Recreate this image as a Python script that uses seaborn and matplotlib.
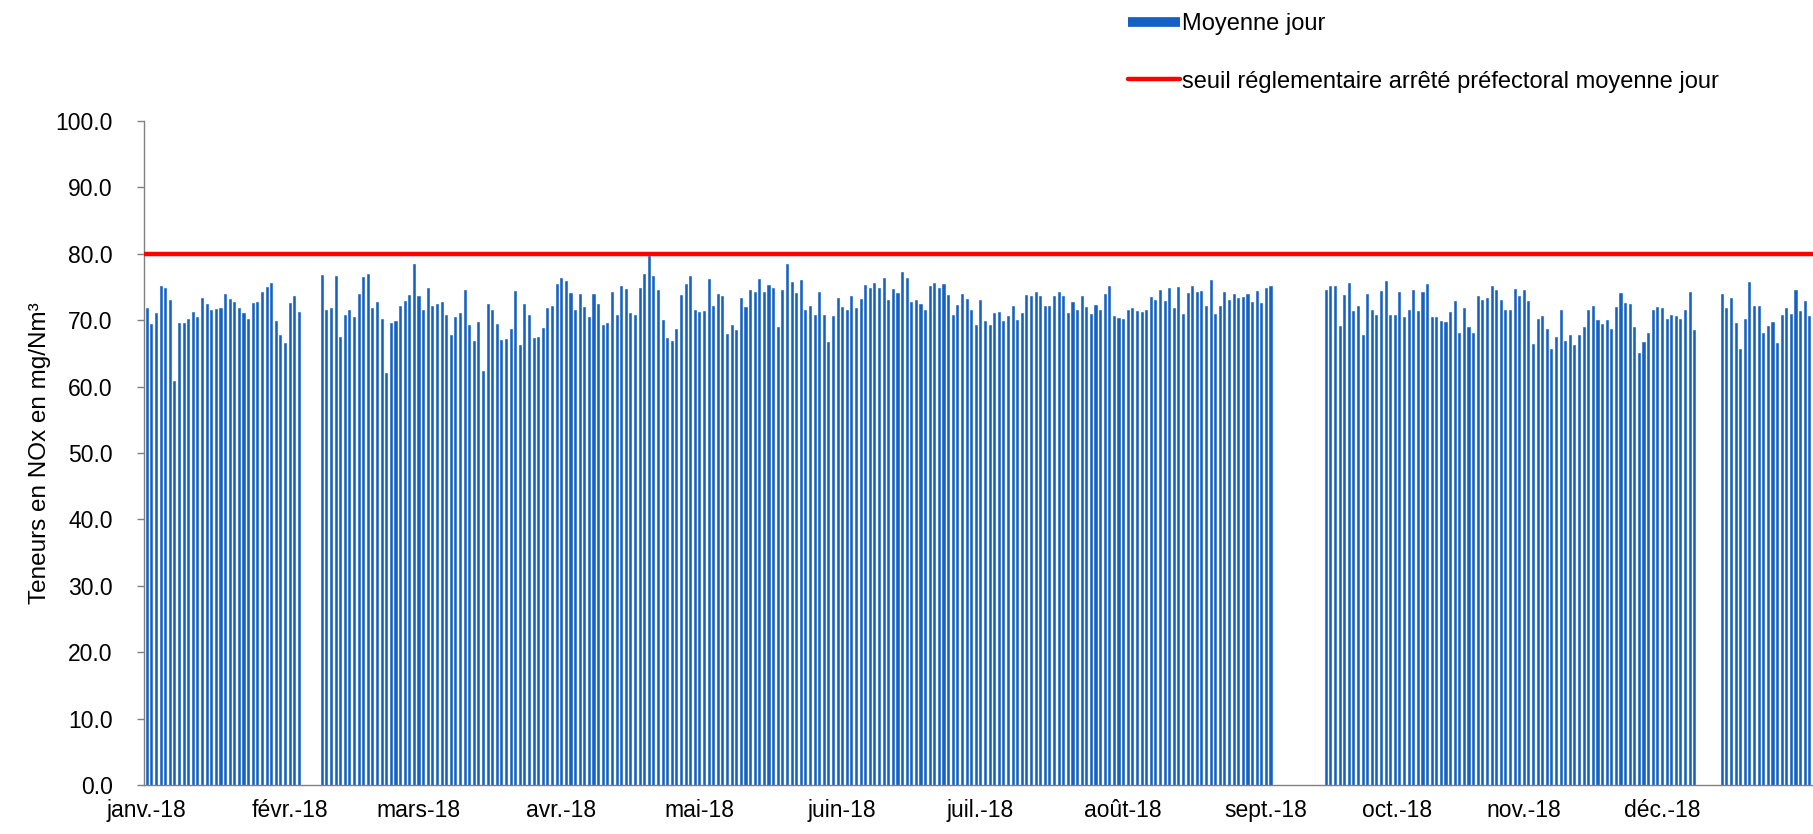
import numpy as np
import pandas as pd
import matplotlib
matplotlib.use("Agg")
import matplotlib.pyplot as plt
from matplotlib.lines import Line2D
import seaborn as sns

# daily NOx means (mg/Nm3), one list per month, None = no measurement
jan = [71.9, 69.4, 71.1, 75.1, 74.9, 73.1, 60.8, 69.5, 69.5, 70.1, 71.2, 70.5, 73.3, 72.4, 71.6, 71.7,
       71.8, 73.9, 73.2, 72.8, 71.8, 71.0, 70.2, 72.6, 72.7, 74.2, 75.0, 75.6, 69.8, 67.7, 66.5]
feb = [72.6, 73.6, 71.2, None, None, None, None, 76.8, 71.5, 71.9, 76.6, 67.4, 70.7, 71.5, 70.5, 73.9,
       76.5, 76.9, 71.9, 72.8, 70.2, 62.1, 69.5, 69.9, 72.1, 72.9, 73.8, 78.5]
mar = [73.7, 71.6, 74.9, 72.1, 72.4, 72.7, 70.7, 67.8, 70.4, 71.1, 74.5, 69.3, 66.9, 69.7, 62.4, 72.4,
       71.5, 69.4, 67.0, 67.1, 68.6, 74.4, 66.2, 72.4, 70.7, 67.3, 67.4, 68.8, 71.8, 72.1, 75.4]
apr = [76.4, 75.9, 74.1, 71.6, 74.0, 72.0, 70.5, 74.0, 72.5, 69.3, 69.6, 74.3, 70.8, 75.2, 74.7, 71.0,
       70.8, 74.9, 76.9, 79.7, 76.7, 74.5, 70.0, 67.3, 66.9, 68.7, 73.8, 75.5, 76.6, 71.5]
may = [71.3, 71.4, 76.2, 72.1, 73.9, 73.6, 67.9, 69.3, 68.5, 73.4, 72.0, 74.6, 74.3, 76.2, 74.2, 75.3,
       74.8, 68.9, 74.5, 78.4, 75.7, 74.1, 76.1, 71.5, 72.1, 70.8, 74.2, 70.7, 66.7, 70.6, 73.3]
jun = [72.0, 71.6, 73.7, 71.8, 73.2, 75.3, 74.8, 75.6, 74.8, 76.3, 73.0, 74.7, 74.1, 77.3, 76.3, 72.7,
       73.0, 72.5, 71.6, 75.2, 75.6, 74.9, 75.5, 73.8, 70.7, 72.3, 73.9, 73.2, 71.6, 69.2]
jul = [73.1, 69.8, 69.3, 71.1, 71.2, 69.8, 70.6, 72.1, 70.0, 71.1, 73.8, 73.6, 74.3, 73.6, 72.1, 72.2,
       73.6, 74.2, 73.6, 71.1, 72.7, 71.6, 73.6, 72.0, 70.9, 72.3, 71.5, 73.9, 75.2, 70.6, 70.3]
aug = [70.1, 71.6, 71.8, 71.4, 71.2, 71.6, 73.5, 73.0, 74.5, 72.9, 74.8, 71.8, 75.0, 70.9, 74.1, 75.1,
       74.3, 74.4, 72.2, 76.1, 70.9, 72.2, 74.2, 73.0, 74.0, 73.3, 73.5, 73.9, 72.7, 74.4, 72.6]
sep = [74.9, 75.2, None, None, None, None, None, None, None, None, None, None, None, 74.5, 75.2, 75.1,
       69.1, 73.8, 75.6, 71.4, 72.1, 67.8, 73.9, 71.5, 70.8, 74.4, 75.9, 70.8, 70.7, 74.3]
oct_ = [70.5, 71.5, 74.6, 71.4, 74.3, 75.4, 70.4, 70.4, 69.8, 69.7, 71.2, 72.9, 68.0, 71.9, 69.0, 68.0,
        73.7, 73.0, 73.3, 75.2, 74.5, 73.0, 71.5, 71.5, 74.7, 73.7, 74.6, 72.9, 66.4, 70.2, 70.6]
nov = [68.6, 65.7, 67.4, 71.5, 66.8, 67.8, 66.2, 67.7, 69.0, 71.6, 72.1, 70.0, 69.4, 70.0, 68.7, 72.0,
       74.1, 72.6, 72.4, 69.0, 65.1, 66.7, 68.0, 71.5, 72.0, 71.8, 70.2, 70.7, 70.6, 70.1]
dec = [71.5, 74.2, 68.5, None, None, None, None, None, 73.9, 71.8, 73.3, 69.6, 65.7, 70.2, 75.7, 72.2,
       72.2, 68.1, 69.1, 69.7, 66.5, 70.7, 71.8, 70.9, 74.6, 71.4, 72.9, 70.6]

month_labels = ["janv.-18", "févr.-18", "mars-18", "avr.-18", "mai-18", "juin-18",
                "juil.-18", "août-18", "sept.-18", "oct.-18", "nov.-18", "déc.-18"]
threshold = 80.0

values = jan + feb + mar + apr + may + jun + jul + aug + sep + oct_ + nov + dec
df = pd.DataFrame({"day": np.arange(len(values)), "nox": pd.to_numeric(values)})
all_days = list(df["day"])
df = df.dropna()

month_starts = pd.date_range("2018-01-01", periods=12, freq="MS")
tick_pos = np.array((month_starts - pd.Timestamp("2018-01-01")).days, dtype=float)
# the original axis puts its last labels a few days ahead of the 1st
tick_pos[9] -= 1.5
tick_pos[10:] -= 5

sns.set_style("white")
plt.rcParams["font.family"] = ["Liberation Sans", "DejaVu Sans"]
plt.rcParams["text.color"] = "black"
plt.rcParams["axes.labelcolor"] = "black"
plt.rcParams["xtick.color"] = "black"
plt.rcParams["ytick.color"] = "black"

blue = "#1560C2"
red = "#FF0000"

fig = plt.figure(figsize=(18.13, 8.34), dpi=100)
ax = fig.add_axes([0.0797, 0.0588, 0.9203, 0.7962])

sns.barplot(data=df, x="day", y="nox", order=all_days, color=blue, saturation=1,
            width=0.45, errorbar=None, edgecolor=blue, linewidth=0.4, ax=ax)
ax.axhline(threshold, color=red, lw=3.2, zorder=3)

ax.set_xlim(-0.5, 361.8)
ax.set_ylim(0, 100)
ax.set_yticks(np.arange(0, 101, 10))
ax.set_yticklabels([f"{v:.1f}" for v in np.arange(0, 101, 10)])
ax.set_xticks(tick_pos)
ax.set_xticklabels(month_labels)
ax.tick_params(axis="y", labelsize=16.5, length=5, width=1, color="#808080", pad=18, direction="out", left=True)
ax.tick_params(axis="x", labelsize=16.5, length=0, pad=10)
ax.set_xlabel("")
ax.set_ylabel("Teneurs en NOx en mg/Nm³", fontsize=17.5, labelpad=3)

for s in ["top", "right"]:
    ax.spines[s].set_visible(False)
for s in ["left", "bottom"]:
    ax.spines[s].set_color("#808080")
    ax.spines[s].set_linewidth(1)

handles = [Line2D([], [], color=blue, lw=7, solid_capstyle="butt"),
           Line2D([], [], color=red, lw=3.2, solid_capstyle="round")]
fig.legend(handles, ["Moyenne jour", "seuil réglementaire arrêté préfectoral moyenne jour"],
           loc="upper left", bbox_to_anchor=(0.622, 0.984), frameon=False, fontsize=17,
           handlelength=2.2, handletextpad=0.12, labelspacing=1.5, borderpad=0, borderaxespad=0)

fig.savefig("out.png", dpi=100)
